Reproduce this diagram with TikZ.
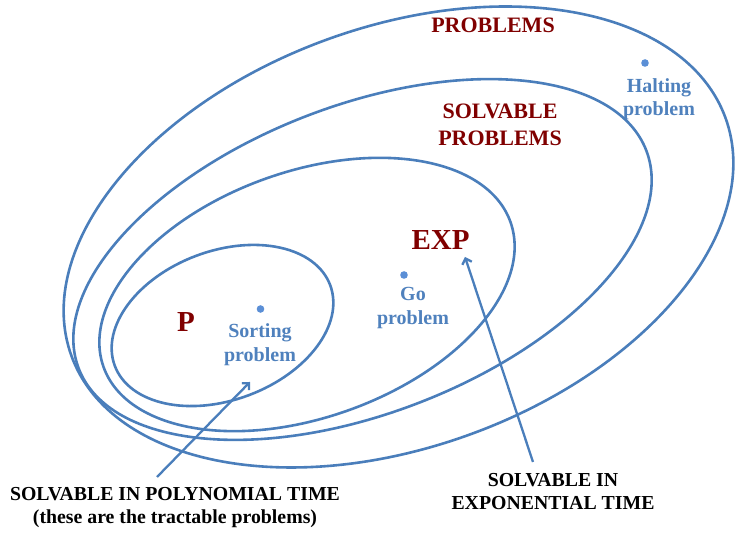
\documentclass[tikz,border=0pt]{standalone}
\usepackage{fontspec}
\setmainfont{Liberation Serif}
\usepackage{tikz}
\usetikzlibrary{arrows.meta}
\definecolor{setblue}{HTML}{4A7EBB}
\definecolor{labelblue}{HTML}{4F81BD}
\definecolor{classred}{HTML}{800000}
\definecolor{dotblue}{HTML}{5B8FD6}

\begin{document}
\begin{tikzpicture}[x=1pt,y=1pt,
  setline/.style={draw=setblue,line width=2.6pt},
  classname/.style={text=classred,font=\bfseries\fontsize{22}{27}\selectfont,align=center},
  bigname/.style={text=classred,font=\bfseries\fontsize{29}{34}\selectfont},
  example/.style={text=labelblue,font=\bfseries\fontsize{20}{23.5}\selectfont,align=center},
  remark/.style={text=black,font=\bfseries\fontsize{19.8}{23}\selectfont,align=center},
  pointer/.style={draw=setblue,line width=2.3pt,-{Straight Barb[length=5pt,width=10pt,line width=2.3pt]}}]
\tikzstyle{every node}+=[inner sep=0pt]
\useasboundingbox (0,0) rectangle (745,534);
\draw [setline,shift={(398.5,297)},rotate=20] (0,0) ellipse [x radius=348,y radius=210];
\draw [setline,shift={(362.5,274.5)},rotate=21] (0,0) ellipse [x radius=304,y radius=154];
\draw [setline,shift={(307,239.5)},rotate=19.6] (0,0) ellipse [x radius=216,y radius=123];
\draw [setline,shift={(222.5,208.5)},rotate=20.5] (0,0) ellipse [x radius=115,y radius=74.5];
\node [classname] (problems) at (493,509) {PROBLEMS};
\node [classname] (solvable) at (500,409.5) {SOLVABLE\\PROBLEMS};
\node [bigname] (exp) at (440.5,294) {EXP};
\node [bigname] (p) at (186,212) {P};
\fill [dotblue] (645,471) circle (3.8);
\node [example] (halting) at (659,435) {Halting\\problem};
\fill [dotblue] (404,259) circle (3.8);
\node [example] (go) at (413,226) {Go\\problem};
\fill [dotblue] (260.5,225) circle (3.8);
\node [example] (sorting) at (260,189.5) {Sorting\\problem};
\node [remark] (polytime) at (175,26.5) {SOLVABLE IN POLYNOMIAL TIME\\(these are the tractable problems)};
\node [remark] (exptime) at (553,42.5) {SOLVABLE IN\\EXPONENTIAL TIME};
\coordinate (ptail) at (157,57);
\coordinate (ptip) at (250,152);
\coordinate (etail) at (533,72);
\coordinate (etip) at (465,277);
\draw [pointer] (ptail) -- (ptip);
\draw [pointer] (etail) -- (etip);
\end{tikzpicture}
\end{document}
